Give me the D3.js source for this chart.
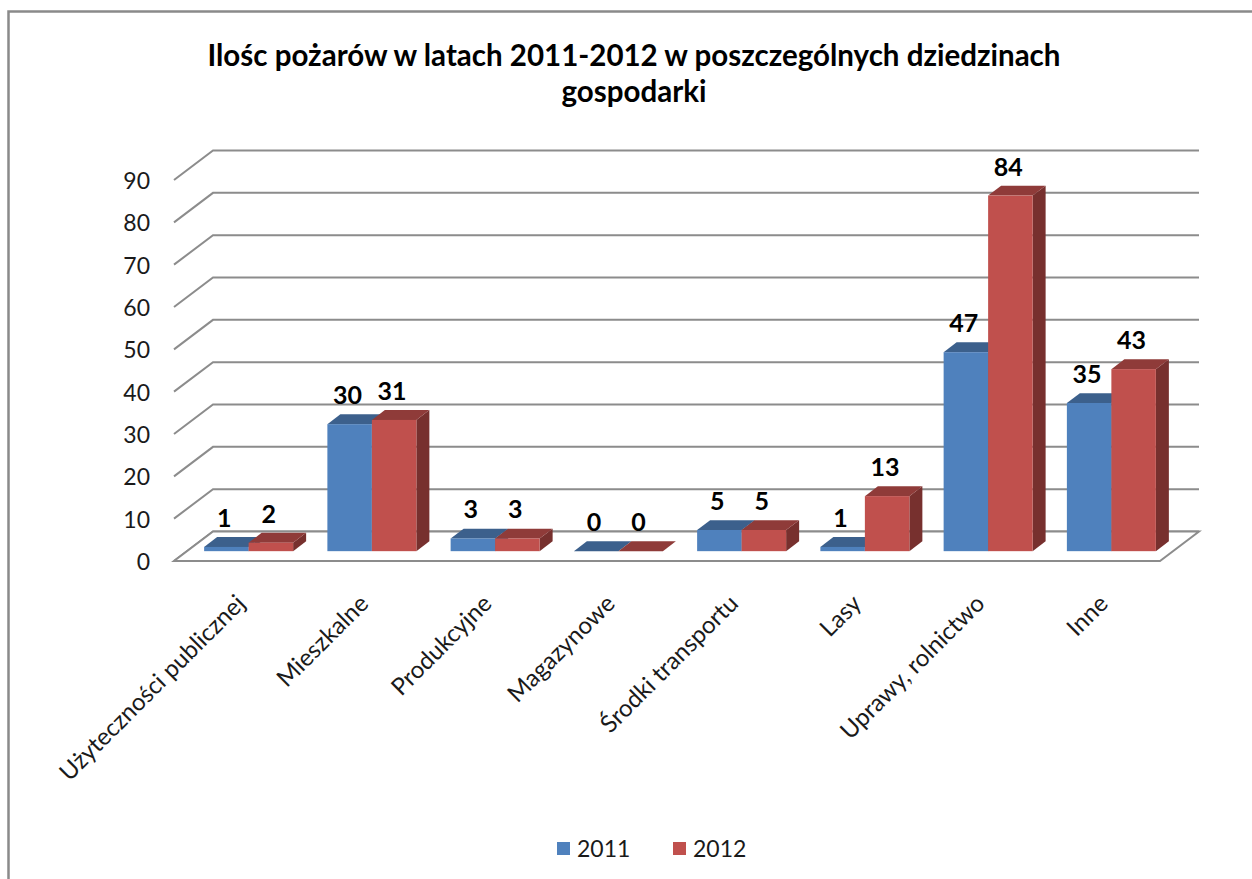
<!DOCTYPE html>
<html>
<head>
<meta charset="utf-8">
<script src="https://cdn.jsdelivr.net/npm/d3@7.9.0/dist/d3.min.js"></script>
<style>
  body { margin: 0; background: #fff; }
  svg text { font-family: Lato, "Open Sans", sans-serif; }
</style>
</head>
<body>
<svg id="chart" width="1252" height="879"></svg>
<script>
// data
const categories = ['Użyteczności publicznej', 'Mieszkalne', 'Produkcyjne', 'Magazynowe',
  'Środki transportu', 'Lasy', 'Uprawy, rolnictwo', 'Inne'];
const series = ['2011', '2012'];
const values2011 = [1, 30, 3, 0, 5, 1, 47, 35];
const values2012 = [2, 31, 3, 0, 5, 13, 84, 43];
const yTicks = [0, 10, 20, 30, 40, 50, 60, 70, 80, 90];
const titleLines = ['Ilośc pożarów w latach 2011-2012 w poszczególnych dziedzinach', 'gospodarki'];

const colors = {
  '2011': { front: '#4f81bd', top: '#3c608c', side: '#36587f' },
  '2012': { front: '#c0504d', top: '#8f3b39', side: '#77302e' }
};

const svg = d3.select('#chart');

// outer chart border (only left + top visible)
svg.append('path')
  .attr('d', 'M8.5,879 V11.5 H1252')
  .attr('fill', 'none')
  .attr('stroke', '#8a8a8a')
  .attr('stroke-width', 2.5);

// title
svg.append('text')
  .attr('x', 634)
  .attr('y', 66)
  .attr('text-anchor', 'middle')
  .attr('font-size', 29.5)
  .attr('font-weight', 'bold')
  .selectAll('tspan')
  .data(titleLines)
  .join('tspan')
  .attr('x', 634)
  .attr('dy', (d, i) => i === 0 ? 0 : 36)
  .text(d => d);

// scales
const x = d3.scaleBand().domain(categories).range([174, 1160]).padding(0);
const xs = d3.scaleBand().domain(series).range([0, x.bandwidth()])
  .paddingInner(0).paddingOuter(0.385);
const y = d3.scaleLinear().domain([0, 90]).range([561, 180]);

// fake 3d depth: t = 0 front, t = 1 back wall
const depthX = 39, depthY = -29.5;
const proj = (px, v, t) => [px + depthX * t, y(v) + depthY * t];

const x0 = x.range()[0], x1 = x.range()[1];

// gridlines: back wall + left side diagonals
const grid = svg.append('g')
  .attr('fill', 'none')
  .attr('stroke', '#8c8c8c')
  .attr('stroke-width', 2);

yTicks.forEach(v => {
  const a = proj(x0, v, 0), b = proj(x0, v, 1), c = proj(x1, v, 1);
  grid.append('path').attr('d', d3.line()([a, b, c]));
});

// floor
const floorPts = [proj(x0, 0, 0), proj(x1, 0, 0), proj(x1, 0, 1), proj(x0, 0, 1)];
grid.append('path')
  .attr('d', d3.line()(floorPts) + 'Z')
  .attr('fill', '#fff');

// y axis labels
svg.append('g')
  .selectAll('text')
  .data(yTicks)
  .join('text')
  .attr('x', 150)
  .attr('y', d => y(d) + 1)
  .attr('dy', '0.35em')
  .attr('text-anchor', 'end')
  .attr('font-size', 23)
  .attr('fill', '#1a1a1a')
  .text(d => d);

// bars
const bars = [];
categories.forEach((c, i) => {
  bars.push({ cat: c, s: '2011', v: values2011[i] });
  bars.push({ cat: c, s: '2012', v: values2012[i] });
});

const tF = 1 / 3, tB = 2 / 3;
const barG = svg.append('g');

bars.forEach(b => {
  const left = x(b.cat) + xs(b.s);
  const right = left + xs.bandwidth();
  const col = colors[b.s];
  const g = barG.append('g');

  // right side
  g.append('path')
    .attr('d', d3.line()([proj(right, 0, tF), proj(right, b.v, tF), proj(right, b.v, tB), proj(right, 0, tB)]) + 'Z')
    .attr('fill', col.side);
  // top
  g.append('path')
    .attr('d', d3.line()([proj(left, b.v, tF), proj(right, b.v, tF), proj(right, b.v, tB), proj(left, b.v, tB)]) + 'Z')
    .attr('fill', col.top);
  // front
  const [fx, fy] = proj(left, b.v, tF);
  const [, by] = proj(left, 0, tF);
  if (by - fy > 0) {
    g.append('rect')
      .attr('x', fx)
      .attr('y', fy)
      .attr('width', xs.bandwidth())
      .attr('height', by - fy)
      .attr('fill', col.front);
  }
});

// data labels
svg.append('g')
  .selectAll('text')
  .data(bars)
  .join('text')
  .attr('x', d => proj(x(d.cat) + xs(d.s) + xs.bandwidth() / 2, d.v, tF)[0] - 2)
  .attr('y', d => proj(0, d.v, tF)[1] - 20)
  .attr('text-anchor', 'middle')
  .attr('font-size', 25)
  .attr('font-weight', 'bold')
  .attr('fill', '#000')
  .text(d => d.v);

// category labels, rotated
svg.append('g')
  .selectAll('text')
  .data(categories)
  .join('text')
  .attr('transform', d => `translate(${x(d) + x.bandwidth() / 2 + 11},605) rotate(-45)`)
  .attr('text-anchor', 'end')
  .attr('font-size', 24)
  .attr('fill', '#1a1a1a')
  .text(d => d);

// legend
const legend = svg.append('g');
const legendX = [557, 673];
series.forEach((s, i) => {
  legend.append('rect')
    .attr('x', legendX[i])
    .attr('y', 842)
    .attr('width', 13)
    .attr('height', 13)
    .attr('fill', colors[s].front);
  legend.append('text')
    .attr('x', legendX[i] + 20)
    .attr('y', 857)
    .attr('font-size', 23)
    .attr('fill', '#1a1a1a')
    .text(s);
});
</script>
</body>
</html>
